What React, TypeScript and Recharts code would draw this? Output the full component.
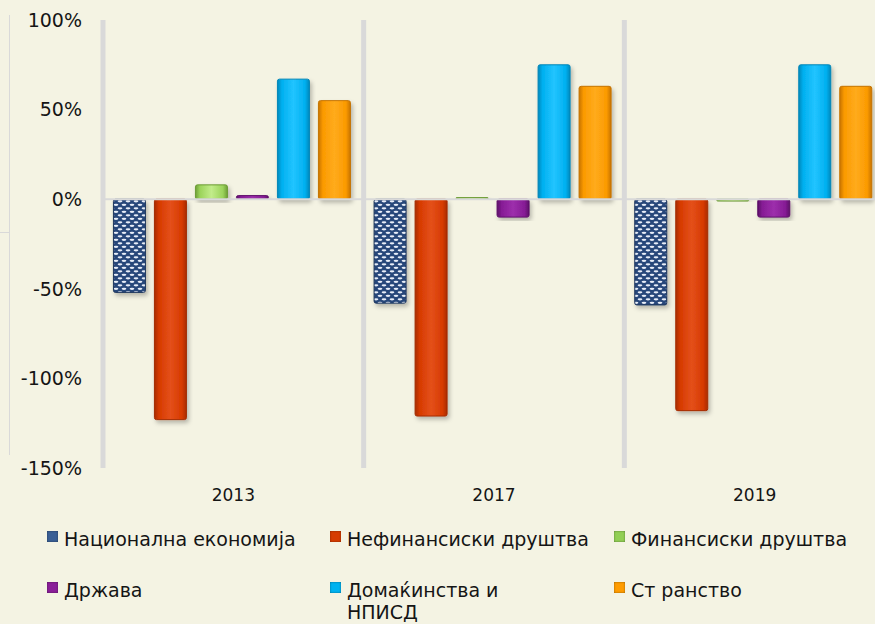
import { Bar, BarChart, CartesianGrid, Legend, ReferenceLine, XAxis, YAxis } from "recharts";

const categories = ["2013", "2017", "2019"];
const national = [-52, -58, -59];
const nonFinancial = [-123, -121, -118];
const financial = [8, 1, -1];
const government = [2, -10, -10];
const households = [67, 75, 75];
const foreign = [55, 63, 63];
const yTicks = [-150, -100, -50, 0, 50, 100];

const series = [
  { key: "national", name: "Национална економија", values: national, fill: "url(#patNational)", stroke: "#1d355c", swatch: "#3a5f95" },
  { key: "nonFinancial", name: "Нефинансиски друштва", values: nonFinancial, fill: "url(#gRed)", stroke: "#a32c00", swatch: "#d63c02" },
  { key: "financial", name: "Финансиски друштва", values: financial, fill: "url(#gGreen)", stroke: "#6c9b35", swatch: "#92cf55" },
  { key: "government", name: "Држава", values: government, fill: "url(#gPurple)", stroke: "#5e1069", swatch: "#8a1e98" },
  { key: "households", name: "Домаќинства и\nНПИСД", values: households, fill: "url(#gCyan)", stroke: "#0086b8", swatch: "#00b2f0" },
  { key: "foreign", name: "Ст ранство", values: foreign, fill: "url(#gOrange)", stroke: "#c67400", swatch: "#ff9c00" },
];

const data = categories.map((c, i) => {
  const row: Record<string, string | number> = { year: c };
  series.forEach((s) => (row[s.key] = s.values[i]));
  return row;
});

const font = "'DejaVu Sans', Verdana, sans-serif";

function grad(id: string, dark: string, base: string, light: string) {
  return (
    <linearGradient id={id} x1="0" y1="0" x2="1" y2="0">
      <stop offset="0%" stopColor={dark} />
      <stop offset="14%" stopColor={base} />
      <stop offset="50%" stopColor={light} />
      <stop offset="86%" stopColor={base} />
      <stop offset="100%" stopColor={dark} />
    </linearGradient>
  );
}

function LegendBox() {
  return (
    <div
      style={{
        height: 116,
        paddingTop: 20,
        paddingLeft: 47,
        boxSizing: "border-box",
        display: "grid",
        gridTemplateColumns: "283px 284px 285px",
        gridAutoRows: "min-content",
        rowGap: 29,
        fontFamily: font,
        fontSize: 19,
        lineHeight: "22px",
        color: "#151515",
      }}
    >
      {series.map((s) => (
        <div key={s.key} style={{ display: "flex", alignItems: "flex-start" }}>
          <span
            style={{
              width: 11,
              height: 11,
              marginTop: 3,
              marginRight: 6,
              flex: "none",
              background: s.swatch,
              boxShadow: "inset 0 0 2px rgba(0,0,0,0.5)",
            }}
          />
          <span style={{ whiteSpace: "pre-line" }}>{s.name}</span>
        </div>
      ))}
    </div>
  );
}

export default function App() {
  return (
    <div style={{ position: "fixed", left: 0, top: 0, width: 875, height: 624, overflow: "hidden", background: "#f4f3e3" }}>
      <div style={{ position: "absolute", left: 9, top: 15, width: 1, height: 440, background: "#d9d9d9" }} />
      <div style={{ position: "absolute", left: 0, top: 232, width: 9, height: 1, background: "#d9d9d9" }} />
      <BarChart
        width={885}
        height={624}
        data={data}
        margin={{ top: 20, right: 0, left: 0, bottom: 0 }}
        barCategoryGap="4%"
        barGap={9}
      >
        <defs>
          <pattern id="patNational" patternUnits="userSpaceOnUse" width="8" height="7">
            <rect width="8" height="7" fill="#28477a" />
            <ellipse cx="4" cy="1.8" rx="2.4" ry="1.1" fill="#e8eef8" />
            <ellipse cx="0" cy="5.3" rx="2.4" ry="1.1" fill="#e8eef8" />
            <ellipse cx="8" cy="5.3" rx="2.4" ry="1.1" fill="#e8eef8" />
          </pattern>
          {grad("gRed", "#a92c00", "#d63a00", "#e4501a")}
          {grad("gGreen", "#6e9e36", "#9bd35a", "#c2ec8a")}
          {grad("gPurple", "#5c0f68", "#861c95", "#9d2fac")}
          {grad("gCyan", "#0088bb", "#00b0f0", "#22c4ff")}
          {grad("gOrange", "#c87400", "#fb9a00", "#ffab1c")}
          <filter id="shadow" x="-20%" y="-20%" width="140%" height="140%">
            <feDropShadow dx="2" dy="3" stdDeviation="2" floodColor="#000" floodOpacity="0.25" />
          </filter>
        </defs>
        <CartesianGrid
          horizontal={false}
          stroke="#d9d9d9"
          strokeWidth={5}
          verticalCoordinatesGenerator={({ offset }: any) =>
            [0, 1, 2].map((i) => offset.left + (i * offset.width) / categories.length)
          }
        />
        <XAxis
          dataKey="year"
          axisLine={false}
          tickLine={false}
          height={40}
          tickMargin={15}
          tick={{ fontSize: 17, fill: "#151515", fontFamily: font }}
        />
        <YAxis
          domain={[-150, 100]}
          ticks={yTicks}
          width={103}
          axisLine={false}
          tickLine={false}
          tickMargin={15}
          tickFormatter={(v) => `${v}%`}
          tick={{ fontSize: 19, fill: "#151515", fontFamily: font }}
        />
        <ReferenceLine y={0} stroke="#d9d9d9" strokeWidth={2} />
        {series.map((s) => (
          <Bar
            key={s.key}
            dataKey={s.key}
            name={s.name}
            fill={s.fill}
            stroke={s.stroke}
            strokeWidth={1}
            radius={2}
            filter="url(#shadow)"
            isAnimationActive={false}
          />
        ))}
        <Legend verticalAlign="bottom" height={116} content={() => <LegendBox />} wrapperStyle={{ left: 0, width: 885 }} />
      </BarChart>
    </div>
  );
}
